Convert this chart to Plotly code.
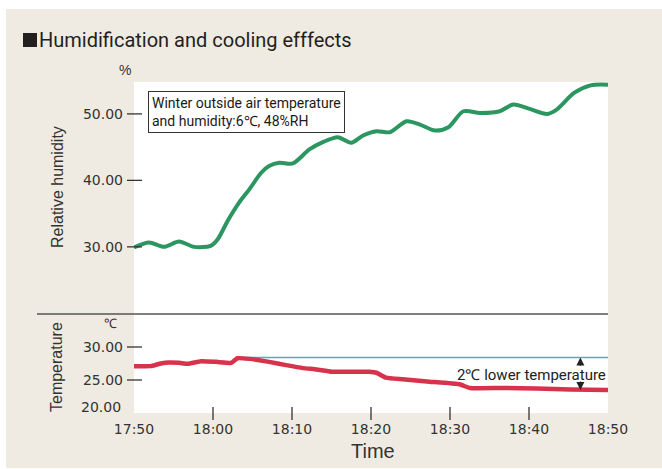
import plotly.graph_objects as go

# ---------------- data ----------------
# elapsed minutes after 17:50
rh_minutes = [0, 1.9, 3.8, 5.7, 7.6, 9.7, 10.6, 11.85, 13.3, 14.6, 16.1, 17.1, 18.4, 20.1,
              22.2, 23.9, 25.8, 27.5, 29.0, 30.7, 32.4, 34.5, 36.2, 38.1, 39.8, 41.7,
              43.8, 46.3, 48.0, 50.1, 52.3, 53.5, 55.7, 57.8, 60]
rh_values = [29.9, 30.65, 30.0, 30.8, 30.0, 30.15, 31.15, 33.9, 36.65, 38.65, 41.15, 42.15,
             42.65, 42.55, 44.65, 45.75, 46.5, 45.65, 46.75, 47.4, 47.25, 48.9, 48.4, 47.5,
             48.0, 50.4, 50.15, 50.4, 51.4, 50.75, 50.0, 50.65, 53.15, 54.3, 54.4]

temp_minutes = [0, 2.1, 3.4, 4.4, 5.7, 6.8, 8.5, 10.4, 12.3, 13.1, 14.6, 17.1, 19.25, 21.4,
                23.1, 25.0, 26.9, 29.8, 30.7, 31.9, 34.0, 37.4, 41.2, 42.5, 46.7, 51.0,
                55.2, 60]
temp_values = [27.1, 27.1, 27.5, 27.65, 27.6, 27.45, 27.85, 27.75, 27.6, 28.3, 28.2, 27.75,
               27.25, 26.8, 26.6, 26.25, 26.25, 26.25, 26.1, 25.35, 25.1, 24.75, 24.35,
               23.8, 23.8, 23.7, 23.55, 23.5]

ref_minutes = [13.1, 60]
ref_values = [28.4, 28.4]

x_tick_vals = [0, 10, 20, 30, 40, 50, 60]
x_tick_text = ["17:50", "18:00", "18:10", "18:20", "18:30", "18:40", "18:50"]
rh_tick_vals = [30, 40, 50]
rh_tick_text = ["30.00", "40.00", "50.00"]
t_tick_vals = [25, 30]
t_tick_text = ["25.00", "30.00"]
t_bottom_label = "20.00"

title_text = "Humidification and cooling efffects"
note_text = "Winter outside air temperature<br>and humidity:6℃, 48%RH"
diff_text = "2℃ lower temperature"

# ---------------- layout geometry ----------------
W, H = 662, 469
L, R, T, B = 134, 608, 82, 413
PW, PH = R - L, B - T
SEP = 314


def px(x):
    return (x - L) / PW


def py(y):
    return (B - y) / PH


GREEN = "#2b9660"
RED = "#d8334c"
BLUE = "#4ea8dc"
BEIGE = "#efebe2"
DARK = "#333333"
NUM_FONT = "DejaVu Sans"
NARROW = "Liberation Sans Narrow, Roboto, Liberation Sans"

fig = go.Figure()

fig.add_trace(go.Scatter(x=rh_minutes, y=rh_values, mode="lines",
                         line=dict(color=GREEN, width=4, shape="spline", smoothing=0.8),
                         xaxis="x", yaxis="y", hoverinfo="skip", showlegend=False))
fig.add_trace(go.Scatter(x=ref_minutes, y=ref_values, mode="lines",
                         line=dict(color=BLUE, width=1.5),
                         xaxis="x2", yaxis="y2", hoverinfo="skip", showlegend=False))
fig.add_trace(go.Scatter(x=temp_minutes, y=temp_values, mode="lines",
                         line=dict(color=RED, width=4.5, shape="spline", smoothing=0.4),
                         xaxis="x2", yaxis="y2", hoverinfo="skip", showlegend=False))

dom_split = py(SEP)

fig.update_layout(
    width=W, height=H,
    margin=dict(l=L, r=W - R, t=T, b=H - B, pad=0),
    paper_bgcolor="white",
    plot_bgcolor="white",
    showlegend=False,
    xaxis=dict(domain=[0, 1], range=[0, 60], anchor="y", showticklabels=False,
               showgrid=False, zeroline=False, ticks="", showline=False),
    yaxis=dict(domain=[dom_split, 1], range=[19.9, 54.8], tickvals=rh_tick_vals,
               ticktext=rh_tick_text, showgrid=False, zeroline=False, ticks="",
               ticklabelstandoff=10, tickfont=dict(family=NUM_FONT, size=14, color=DARK),
               showline=False),
    xaxis2=dict(domain=[0, 1], range=[0, 60], anchor="y2", tickvals=x_tick_vals,
                ticktext=x_tick_text, showgrid=False, zeroline=False, ticks="",
                ticklabelstandoff=6, tickfont=dict(family=NUM_FONT, size=14, color=DARK),
                showline=False),
    yaxis2=dict(domain=[0, dom_split], range=[20, 35], tickvals=t_tick_vals,
                ticktext=t_tick_text, showgrid=False, zeroline=False, ticks="",
                ticklabelstandoff=10, tickfont=dict(family=NUM_FONT, size=14, color=DARK),
                showline=False),
)

shapes = []
# beige background panel
shapes.append(dict(type="rect", xref="paper", yref="paper", layer="below",
                   x0=px(6), x1=px(662), y0=py(468), y1=py(9),
                   fillcolor=BEIGE, line=dict(width=0)))
# white plot area
shapes.append(dict(type="rect", xref="paper", yref="paper", layer="below",
                   x0=0, x1=1, y0=0, y1=1, fillcolor="white", line=dict(width=0)))
# title bullet square
shapes.append(dict(type="rect", xref="paper", yref="paper",
                   x0=px(23), x1=px(37), y0=py(47), y1=py(33),
                   fillcolor="#231f20", line=dict(width=0)))
# separator line
shapes.append(dict(type="line", xref="paper", yref="paper",
                   x0=px(37), x1=1, y0=dom_split, y1=dom_split,
                   line=dict(color="#555555", width=1.5)))
# y tick marks
for v in rh_tick_vals:
    shapes.append(dict(type="line", xref="paper", yref="y", x0=px(127), x1=px(142),
                       y0=v, y1=v, line=dict(color=DARK, width=1.3)))
for v in t_tick_vals:
    shapes.append(dict(type="line", xref="paper", yref="y2", x0=px(127), x1=px(142),
                       y0=v, y1=v, line=dict(color=DARK, width=1.3)))
# x tick marks (inner ticks only)
for v in x_tick_vals[1:-1]:
    shapes.append(dict(type="line", xref="x2", yref="paper", x0=v, x1=v,
                       y0=py(420), y1=py(407), line=dict(color=DARK, width=1.3)))
fig.update_layout(shapes=shapes)

ann = []
ann.append(dict(text=title_text, xref="paper", yref="paper", x=px(37), y=py(40),
                xanchor="left", yanchor="middle", showarrow=False,
                font=dict(family=NARROW, size=20, color="#231f20")))
ann.append(dict(text="%", xref="paper", yref="paper", x=px(125), y=py(70),
                xanchor="center", yanchor="middle", showarrow=False,
                font=dict(family="Liberation Sans", size=14, color=DARK)))
ann.append(dict(text="℃", xref="paper", yref="paper", x=px(110), y=py(323),
                xanchor="center", yanchor="middle", showarrow=False,
                font=dict(family="Liberation Sans", size=13, color=DARK)))
ann.append(dict(text="Relative humidity", xref="paper", yref="paper", x=px(57), y=py(187),
                xanchor="center", yanchor="middle", showarrow=False, textangle=-90,
                font=dict(family="Liberation Sans", size=16, color=DARK)))
ann.append(dict(text="Temperature", xref="paper", yref="paper", x=px(56), y=py(367),
                xanchor="center", yanchor="middle", showarrow=False, textangle=-90,
                font=dict(family="Liberation Sans", size=16, color=DARK)))
ann.append(dict(text="Time", xref="paper", yref="paper", x=px(373), y=py(451),
                xanchor="center", yanchor="middle", showarrow=False,
                font=dict(family="Liberation Sans", size=20, color=DARK)))
ann.append(dict(text=t_bottom_label, xref="paper", yref="paper", x=px(123), y=py(407),
                xanchor="right", yanchor="middle", showarrow=False,
                font=dict(family=NUM_FONT, size=14, color=DARK)))
ann.append(dict(text=note_text, xref="paper", yref="paper", x=px(148), y=py(91),
                xanchor="left", yanchor="top", showarrow=False, align="left",
                bgcolor="white", bordercolor=DARK, borderwidth=1, borderpad=3,
                font=dict(family=NARROW, size=14, color="#1a1a1a")))
ann.append(dict(text=diff_text, xref="x2", yref="y2", x=50.3, y=25.75,
                xanchor="center", yanchor="middle", showarrow=False,
                font=dict(family=NARROW, size=15, color="#222222")))
# arrows
ann.append(dict(text="", xref="x2", yref="y2", x=56.5, y=ref_values[0],
                axref="x2", ayref="y2", ax=56.5, ay=26.9, showarrow=True,
                arrowhead=2, arrowsize=1.6, arrowwidth=1, arrowcolor="#222222"))
ann.append(dict(text="", xref="x2", yref="y2", x=56.5, y=23.5,
                axref="x2", ayref="y2", ax=56.5, ay=25.0, showarrow=True,
                arrowhead=2, arrowsize=1.6, arrowwidth=1, arrowcolor="#222222"))
fig.update_layout(annotations=ann)

fig.write_html("out.html", config={"displayModeBar": False},
               post_script="document.body.style.margin='0px';")
